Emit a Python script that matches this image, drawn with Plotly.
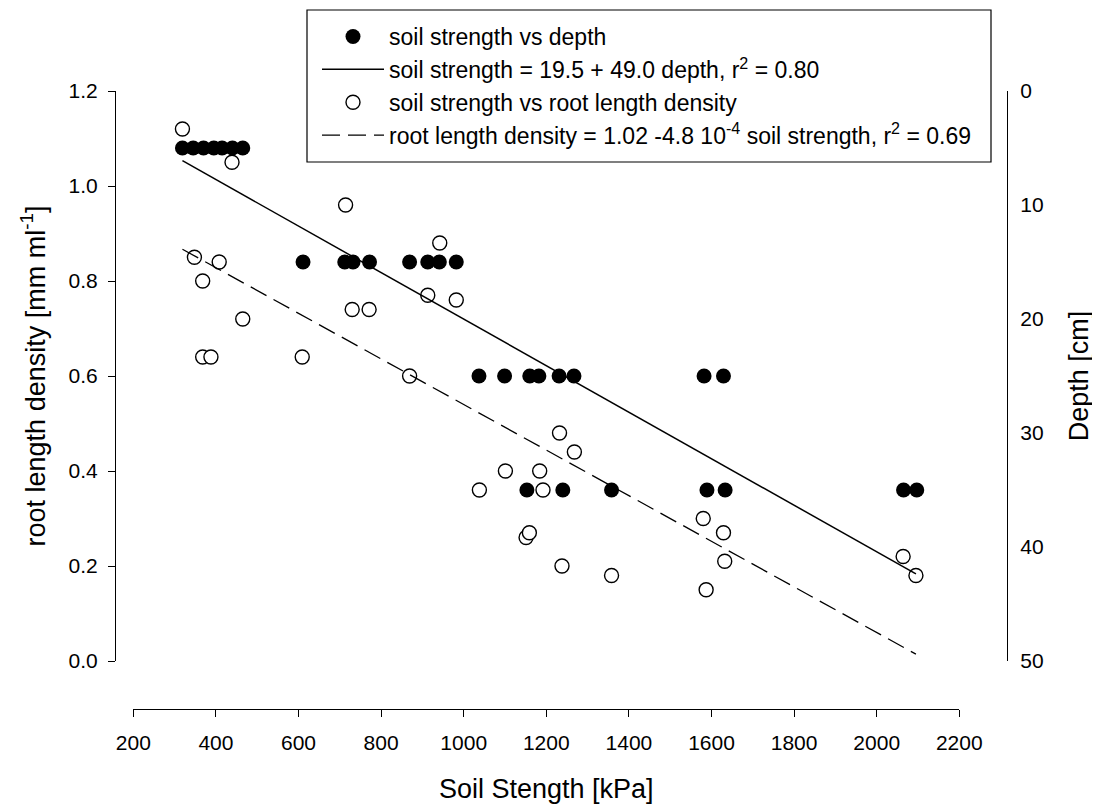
import plotly.graph_objects as go

# ---- data ----
# soil strength (kPa) vs depth (cm) -- filled circles, right axis
depth_strength = [319, 345, 370, 395, 415, 440, 465,
                  611, 712, 732, 772, 869, 913, 941, 982,
                  1037, 1099, 1160, 1182, 1231, 1267, 1582, 1629,
                  1153, 1240, 1358, 1589, 1633, 2065, 2097]
depth_values = [5, 5, 5, 5, 5, 5, 5,
                15, 15, 15, 15, 15, 15, 15, 15,
                25, 25, 25, 25, 25, 25, 25, 25,
                35, 35, 35, 35, 35, 35, 35]

# soil strength (kPa) vs root length density (mm/ml) -- open circles, left axis
rld_strength = [319, 439, 714, 942, 348, 408, 368, 465, 730, 771, 913, 982,
                368, 388, 609, 869, 1038, 1101, 1184, 1192, 1232, 1268,
                1151, 1159, 1238, 1358, 1580, 1629, 1632, 1587, 2064, 2095]
rld_values = [1.12, 1.05, 0.96, 0.88, 0.85, 0.84, 0.80, 0.72, 0.74, 0.74, 0.77, 0.76,
              0.64, 0.64, 0.64, 0.60, 0.36, 0.40, 0.40, 0.36, 0.48, 0.44,
              0.26, 0.27, 0.20, 0.18, 0.30, 0.27, 0.21, 0.15, 0.22, 0.18]

# regression coefficients (from legend)
ss_intercept, ss_slope = 19.5, 49.0          # soil strength = 19.5 + 49.0 depth
rld_intercept, rld_slope = 1.02, -4.8e-4     # rld = 1.02 - 4.8e-4 soil strength

x_ticks = list(range(200, 2201, 200))

# fitted lines
fit_x = [min(rld_strength), max(rld_strength)]
fit_depth = [(x - ss_intercept) / ss_slope for x in fit_x]
fit_rld = [rld_intercept + rld_slope * x for x in fit_x]

FONT = "Arial, 'Liberation Sans', Helvetica, sans-serif"

fig = go.Figure()
fig.add_trace(go.Scatter(
    x=depth_strength, y=depth_values, mode="markers", yaxis="y2",
    name="soil strength vs depth",
    marker=dict(symbol="circle", size=15, color="black", line=dict(width=0))))
fig.add_trace(go.Scatter(
    x=fit_x, y=fit_depth, mode="lines", yaxis="y2",
    name="soil strength = 19.5 + 49.0 depth, r<sup>2</sup> = 0.80",
    line=dict(color="black", width=1.5)))
fig.add_trace(go.Scatter(
    x=rld_strength, y=rld_values, mode="markers", yaxis="y",
    name="soil strength vs root length density",
    marker=dict(symbol="circle", size=14, color="white",
                line=dict(color="black", width=1.4))))
fig.add_trace(go.Scatter(
    x=fit_x, y=fit_rld, mode="lines", yaxis="y",
    name="root length density = 1.02 -4.8 10<sup>-4</sup> soil strength, r<sup>2</sup> = 0.69",
    line=dict(color="black", width=1.3, dash="18px,8px")))

W, H = 1100, 804
ml, mr, mt, mb = 100, 40, 20, 95
pw, ph = W - ml - mr, H - mt - mb
OFF = 8  # page body margin offset


def px_x(p):
    return (p - OFF - ml) / pw


def px_y(p):
    return (H - mb - (p - OFF)) / ph


ydom = [px_y(661), px_y(91)]

fig.update_layout(
    width=W, height=H,
    margin=dict(l=ml, r=mr, t=mt, b=mb, autoexpand=False),
    paper_bgcolor="white", plot_bgcolor="white",
    font=dict(family=FONT, color="black", size=21),
    showlegend=True,
    legend=dict(x=px_x(317), y=px_y(15), xanchor="left", yanchor="top",
                bgcolor="rgba(0,0,0,0)", borderwidth=0,
                font=dict(size=23, family=FONT), itemwidth=62,
                tracegroupgap=0),
    shapes=[dict(type="rect", xref="paper", yref="paper",
                 x0=px_x(307), x1=px_x(991), y0=px_y(162), y1=px_y(10),
                 line=dict(color="black", width=1.2), fillcolor="white",
                 layer="below")],
    xaxis=dict(domain=[px_x(133.3), px_x(959.3)], range=[200, 2200],
               anchor="free", position=px_y(709),
               showline=True, linecolor="black", linewidth=1.2,
               ticks="outside", ticklen=7, tickcolor="black", tickwidth=1.2,
               tickvals=x_ticks, showgrid=False, zeroline=False,
               tickfont=dict(size=21), ticklabelstandoff=8,
               title=dict(text="Soil Stength [kPa]", font=dict(size=27), standoff=25)),
    yaxis=dict(domain=ydom, range=[0, 1.2], anchor="free", position=px_x(115),
               showline=True, linecolor="black", linewidth=1.2,
               ticks="outside", ticklen=7, tickcolor="black", tickwidth=1.2,
               dtick=0.2, tickformat=".1f", showgrid=False, zeroline=False,
               tickfont=dict(size=21), ticklabelstandoff=6,
               title=dict(text="root length density [mm ml<sup>-1</sup>]",
                          font=dict(size=27), standoff=14)),
    yaxis2=dict(overlaying="y", range=[50, 0], anchor="free", position=px_x(1007),
                side="right", showline=True, linecolor="black", linewidth=1.2,
                ticks="", dtick=10, showgrid=False, zeroline=False,
                tickfont=dict(size=21), ticklabelstandoff=8,
                title=dict(text="Depth [cm]", font=dict(size=27), standoff=26)),
)

fig.write_html("out.html")
